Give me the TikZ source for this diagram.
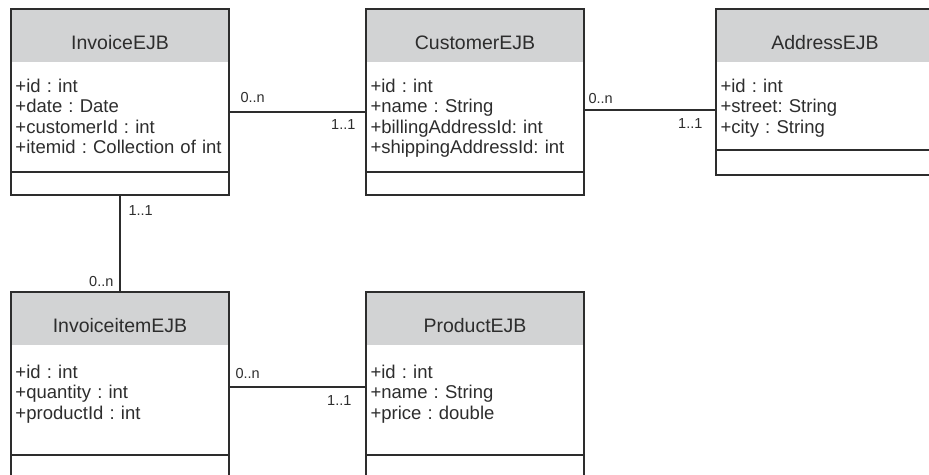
\documentclass[tikz,border=0pt]{standalone}
\usepackage{fontspec}
\setmainfont{Liberation Sans}
\usetikzlibrary{positioning}
\frenchspacing

\definecolor{headgray}{RGB}{210,211,212}
\definecolor{inkgray}{RGB}{45,45,45}

\tikzset{
  classhead/.style={fill=headgray, minimum width=218pt, minimum height=53pt, inner sep=0pt, outer sep=0pt,
    text height=28pt, text depth=0pt, font=\fontsize{19.5}{22}\selectfont, text=inkgray},
  classattr/.style={minimum width=218pt, text width=209pt, inner xsep=4.5pt, inner ysep=0pt, outer sep=0pt,
    align=left, font=\fontsize{18.5}{20.5}\selectfont, text=inkgray},
  classops/.style={draw=inkgray, line width=1.2pt, minimum width=218pt, inner sep=0pt, outer sep=0pt},
  classline/.style={draw=inkgray, line width=1.2pt},
  mult/.style={font=\fontsize{14.5}{14.5}\selectfont, inner sep=0pt, text=inkgray},
}

\begin{document}
\begin{tikzpicture}
    \useasboundingbox (0,0) rectangle (929pt,-474pt);
    \clip (0,0) rectangle (929pt,-474pt);

    % Classes
    \node[classhead, anchor=north west] (inv) at (11pt,-9pt) {InvoiceEJB};
    \node[classattr, below=0pt of inv, text height=30pt, text depth=80pt] (invattr)
        {+id : int\\+date : Date\\+customerId : int\\+itemid : Collection of int};
    \node[classops, below=0pt of invattr, minimum height=23pt] (invops) {};

    \node[classhead, right=137pt of inv] (cust) {CustomerEJB};
    \node[classattr, below=0pt of cust, text height=30pt, text depth=80pt] (custattr)
        {+id : int\\+name : String\\+billingAddressId: int\\+shippingAddressId: int};
    \node[classops, below=0pt of custattr, minimum height=23pt] (custops) {};

    \node[classhead, right=132pt of cust] (addr) {AddressEJB};
    \node[classattr, below=0pt of addr, text height=30pt, text depth=58pt] (addrattr)
        {+id : int\\+street: String\\+city : String};
    \node[classops, below=0pt of addrattr, minimum height=25pt] (addrops) {};

    \node[classhead, below=97pt of invops] (item) {InvoiceitemEJB};
    \node[classattr, below=0pt of item, text height=33pt, text depth=77pt] (itemattr)
        {+id : int\\+quantity : int\\+productId : int};
    \node[classops, below=0pt of itemattr, minimum height=30pt] (itemops) {};

    \node[classhead, right=137pt of item] (prod) {ProductEJB};
    \node[classattr, below=0pt of prod, text height=33pt, text depth=77pt] (prodattr)
        {+id : int\\+name : String\\+price : double};
    \node[classops, below=0pt of prodattr, minimum height=30pt] (prodops) {};

    % Outlines
    \foreach \cls in {inv,cust,addr,item,prod}
        \draw[classline] (\cls.north west) rectangle (\cls ops.south east);

    % Associations
    \draw[classline] ([yshift=5pt]invattr.east) coordinate (ic)
        -- node[mult, pos=0, above right=9pt and 11pt] {0..n}
           node[mult, pos=1, below left=7pt and 10pt] {1..1} (ic -| custattr.west);
    \draw[classline] ([yshift=7pt]custattr.east) coordinate (ca)
        -- node[mult, pos=0, above right=6pt and 4pt] {0..n}
           node[mult, pos=1, below left=8pt and 13pt] {1..1} (ca -| addrattr.west);
    \draw[classline] (invops.south)
        -- node[mult, pos=0, below right=10pt and 8pt] {1..1}
           node[mult, pos=1, above left=5pt and 6pt] {0..n} (item.north);
    \draw[classline] ([yshift=13pt]itemattr.east) coordinate (ip)
        -- node[mult, pos=0, above right=8pt and 6pt] {0..n}
           node[mult, pos=1, below left=8pt and 14pt] {1..1} (ip -| prodattr.west);
\end{tikzpicture}
\end{document}
